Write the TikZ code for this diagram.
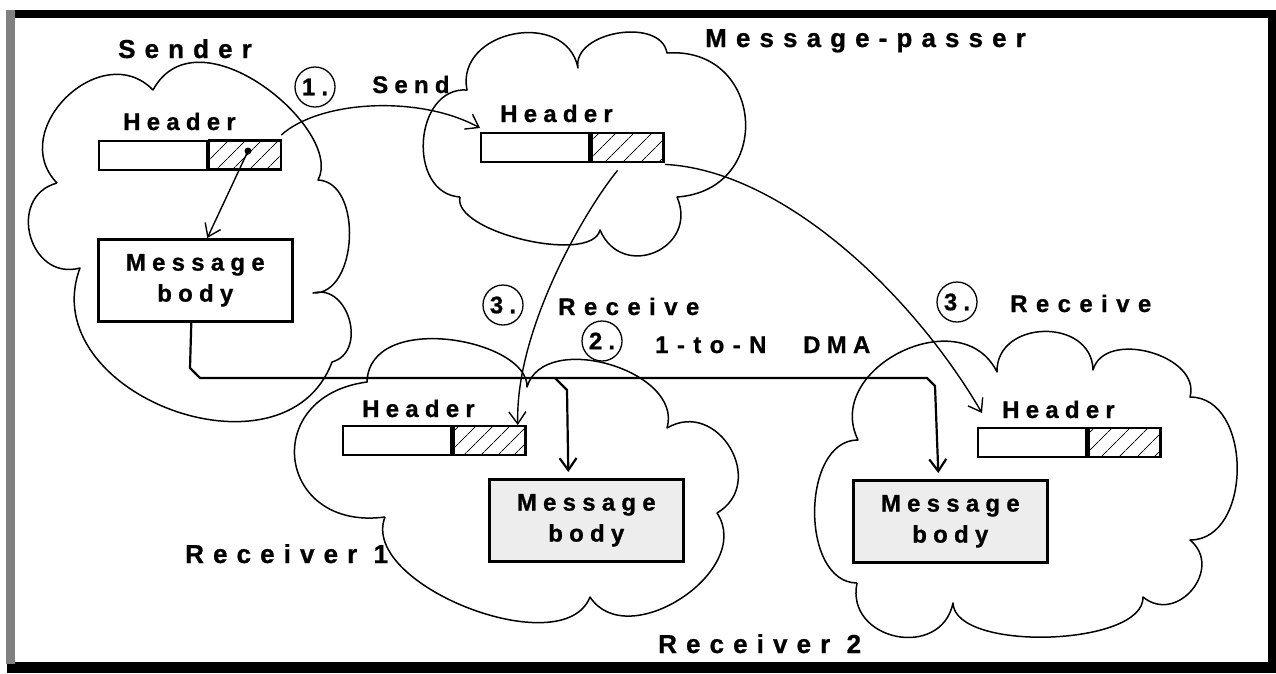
\documentclass[tikz,border=0pt]{standalone}
\usepackage{fontspec}
\setmainfont{Liberation Sans}
\newfontfamily\bigfont[LetterSpace=35,BoldFeatures={FakeBold=0.8}]{Liberation Sans}
\newfontfamily\smallfont[LetterSpace=26,BoldFeatures={FakeBold=0.8}]{Liberation Sans}
\newfontfamily\widefont[LetterSpace=35,BoldFeatures={FakeBold=0.8}]{Liberation Sans}
\usetikzlibrary{calc,arrows.meta,patterns.meta}
\begin{document}
\begin{tikzpicture}[x=1pt,y=-1pt,
  big/.style={anchor=base west, inner sep=0pt, font=\bigfont\bfseries\fontsize{26}{30}\selectfont},
  small/.style={anchor=base west, inner sep=0pt, font=\smallfont\bfseries\fontsize{24}{28}\selectfont},
  wide/.style={anchor=base west, inner sep=0pt, font=\widefont\bfseries\fontsize{24}{28}\selectfont},
  cloudline/.style={line width=1.5pt, line join=round},
  lobe/.style={to path={.. controls ($(\tikztostart)!#1!90:(\tikztotarget)$) and ($(\tikztotarget)!#1!-90:(\tikztostart)$) .. (\tikztotarget)}},
  slobe/.style 2 args={to path={.. controls ($(\tikztostart)!#1!90:(\tikztotarget)$) and ($(\tikztotarget)!#2!-90:(\tikztostart)$) .. (\tikztotarget)}},
  hleft/.style={draw, line width=2.4pt, minimum width=108pt, minimum height=29pt, inner sep=0pt, anchor=north west},
  hright/.style={draw, line width=2.4pt, minimum width=72pt, minimum height=29pt, inner sep=0pt, anchor=north west, pattern={Lines[angle=45,distance=13pt,line width=0.9pt]}},
  bodybox/.style={draw, line width=2.6pt, minimum width=194pt, minimum height=82pt, anchor=north west, align=center, font=\smallfont\bfseries\fontsize{24}{31}\selectfont},
  numc/.style={draw, circle, line width=1.3pt, minimum size=40pt, inner sep=0pt, font=\smallfont\bfseries\fontsize{24}{28}\selectfont},
  arr/.style={line width=1.4pt, -{Straight Barb[length=12pt,width=17pt]}},
  dma/.style={line width=2.2pt, line join=miter, -{Straight Barb[length=12pt,width=17pt]}}
]
\useasboundingbox (0,0) rectangle (1276,673);
% frame
\draw[line width=8pt] (11,14) rectangle (1272,667);
\fill (7,662) rectangle (1276,673);
\fill[black!50] (6,10) rectangle (15,664);

% clouds
\coordinate (sA) at (153,90);
\coordinate (sB) at (318,180);
\coordinate (sC) at (313,293);
\coordinate (sD) at (332,362);
\coordinate (sE) at (80,268);
\coordinate (sF) at (57,183);
\draw[cloudline] (sF) to[lobe=0.55] (sA) to[slobe={0.5}{0.3}] (sB) to[lobe=0.4] (sC)
  to[lobe=0.52] (sD) to[lobe=0.5] (sE) to[lobe=0.6] (sF);

\coordinate (m1) at (467,90);
\coordinate (m2) at (578,68);
\coordinate (m3) at (667,53);
\coordinate (m4) at (677,197);
\coordinate (m5) at (600,230);
\coordinate (m6) at (460,197);
\draw[cloudline] (m6) to[lobe=0.5] (m1) to[lobe=0.54] (m2) to[lobe=0.41] (m3)
  to[lobe=0.68] (m4) to[lobe=0.67] (m5) to[lobe=0.25] (m6);

\coordinate (a1) at (367,382);
\coordinate (a2) at (527,387);
\coordinate (a3) at (667,428);
\coordinate (a4) at (717,513);
\coordinate (a5) at (590,597);
\coordinate (a6) at (385,517);
\draw[cloudline] (a6) to[lobe=0.8] (a1) to[slobe={0.45}{0.3}] (a2) to[lobe=0.41] (a3)
  to[lobe=0.6] (a4) to[lobe=0.45] (a5) to[lobe=0.33] (a6);

\coordinate (q1) at (858,440);
\coordinate (q2) at (997,372);
\coordinate (q3) at (1093,370);
\coordinate (q4) at (1190,397);
\coordinate (q5) at (1190,540);
\coordinate (q6) at (1143,597);
\coordinate (q7) at (953,603);
\coordinate (q8) at (857,583);
\draw[cloudline] (q8) to[lobe=0.4] (q1) to[lobe=0.52] (q2) to[lobe=0.55] (q3)
  to[lobe=0.43] (q4) to[lobe=0.44] (q5) to[lobe=0.6] (q6) to[lobe=0.26] (q7) to[lobe=0.6] (q8);

% sender
\node[big] (lsender) at (118,58) {Sender};
\node[small] (hsl) at (123,130) {Header};
\node[hleft] (shl) at (98,140) {};
\node[hright] (shr) at (shl.north east) {};
\node[bodybox] (sbody) at (97,238) {Message\\body};
\node[circle, fill, inner sep=0pt, minimum size=7pt] (sdot) at (248,151) {};

% message passer
\node[big] (lmp) at (705,47) {Message-passer};
\node[small] (hml) at (500,122) {Header};
\node[hleft] (mhl) at (480,132) {};
\node[hright] (mhr) at (mhl.north east) {};

% receiver 1
\node[small] (hr1) at (362,417) {Header};
\node[hleft] (r1hl) at (342,425) {};
\node[hright] (r1hr) at (r1hl.north east) {};
\node[bodybox, fill=black!7] (r1body) at (488,478) {Message\\body};
\node[big] (lr1) at (185,563) {Receiver 1};

% receiver 2
\node[small] (hr2) at (1002,418) {Header};
\node[hleft] (r2hl) at (977,427) {};
\node[hright] (r2hr) at (r2hl.north east) {};
\node[bodybox, fill=black!7] (r2body) at (852,479) {Message\\body};
\node[big] (lr2) at (658,653) {Receiver 2};

% step labels
\node[numc] (c1) at (315,87) {1.};
\node[small] (lsend) at (372,93) {Send};
\node[numc] (c3a) at (503,305) {3.};
\node[wide] (lrec1) at (558,315) {Receive};
\node[numc] (c2) at (602,341) {2.};
\node[wide] (ldma) at (655,353) {1-to-N};
\node[small] (ldmb) at (803,353) {DMA};
\node[numc] (c3b) at (957,302) {3.};
\node[wide] (lrec2) at (1010,312) {Receive};

% connectors
\draw[arr] (sdot.center) -- ([xshift=12pt]sbody.north);
\draw[arr] ([yshift=5pt]shr.north east) .. controls (320,100) and (420,95) .. ([yshift=4pt]mhl.north west);
\draw[arr] ([xshift=-10pt,yshift=-7pt]mhr.south) .. controls (585,210) and (515,330) .. ([xshift=-9pt]r1hr.north east);
\draw[arr] ([yshift=-1pt]mhr.south east) .. controls (780,170) and (910,290) .. ([xshift=5pt,yshift=14pt]r2hl.north west);
\coordinate (j0) at (190,368);
\coordinate (j1) at (200,378);
\coordinate (j2) at (927,378);
\coordinate (j3) at (935,386);
\coordinate (k0) at (555,378);
\coordinate (k1) at (567,390);
\draw[dma] ([xshift=-4pt]sbody.south) -- (j0) -- (j1) -- (j2) -- (j3) -- ([xshift=-12pt,yshift=6pt]r2body.north);
\draw[dma] (k0) -- (k1) -- ([xshift=-18pt,yshift=6pt]r1body.north);
\end{tikzpicture}
\end{document}
